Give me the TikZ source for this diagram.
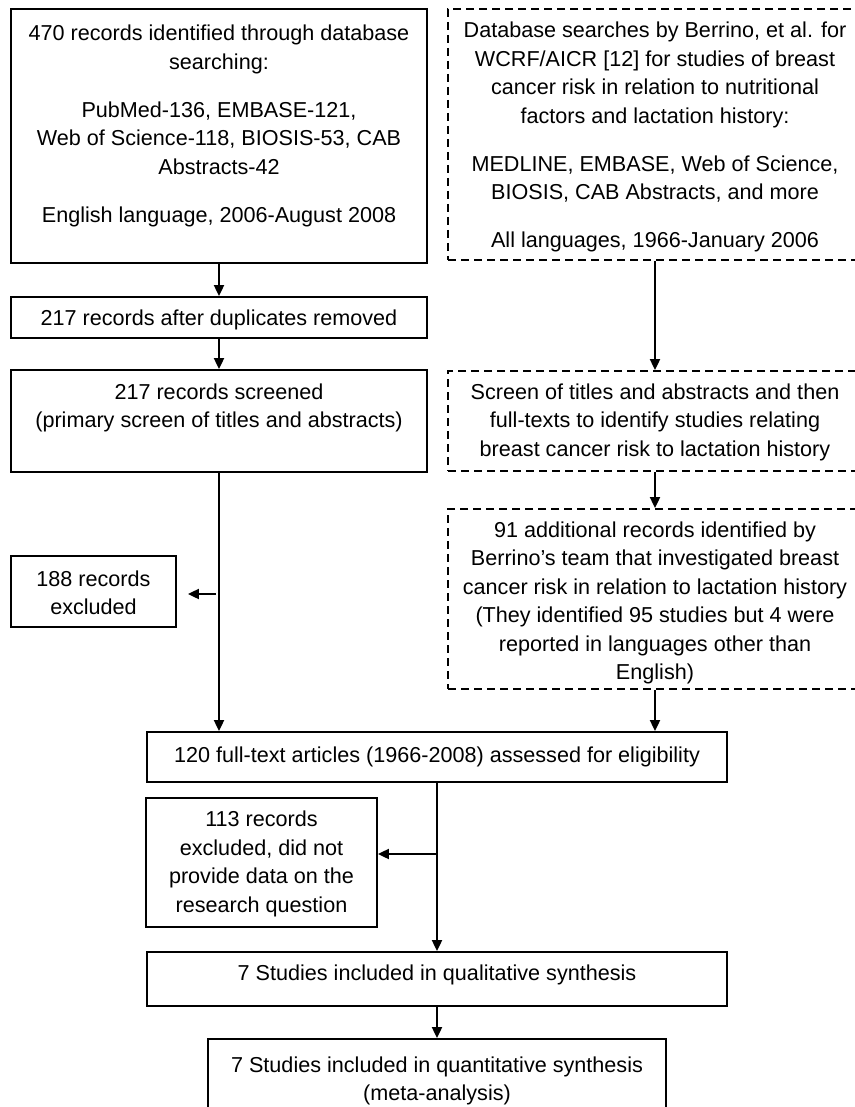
\documentclass[tikz,border=0pt]{standalone}
\usepackage{fontspec}
\setmainfont{Liberation Sans}
\usetikzlibrary{arrows.meta}
\tikzset{
  boxn/.style={draw, line width=1.8pt, inner sep=0pt, rectangle},
  dboxn/.style={boxn, dash pattern=on 8pt off 5pt},
  txt/.style={inner sep=0pt, align=center, font=\fontsize{21.6}{28.5}\selectfont},
  arr/.style={line width=1.9pt, -{Triangle[length=11pt,width=10pt]}},
}
\begin{document}
\begin{tikzpicture}[x=1pt,y=-1pt]
\useasboundingbox (0,0) rectangle (854,1107);
% boxes
\node[boxn, minimum width=416pt, minimum height=254pt] (b1) at (219,136) {};
\node[boxn, minimum width=416pt, minimum height=41pt] (b2) at (219,317.5) {};
\node[boxn, minimum width=416pt, minimum height=102pt] (b3) at (219,421) {};
\node[boxn, minimum width=165pt, minimum height=71pt] (ex1) at (93.5,591.5) {};
\node[dboxn, minimum width=414pt, minimum height=251pt] (r1) at (655,134.5) {};
\node[dboxn, minimum width=414pt, minimum height=100pt] (r2) at (655,421) {};
\node[dboxn, minimum width=414pt, minimum height=180pt] (r3) at (655,599) {};
\node[boxn, minimum width=580pt, minimum height=50pt] (full) at (437,757) {};
\node[boxn, minimum width=231pt, minimum height=129pt] (ex2) at (261.5,862.5) {};
\node[boxn, minimum width=580pt, minimum height=54pt] (qual) at (437,979) {};
\node[boxn, minimum width=458pt, minimum height=76pt] (quant) at (437,1077) {};
% texts
\node[txt, anchor=north] (t1) at (219,25) {470 records identified through database\\searching:\\[19.5pt]PubMed-136, EMBASE-121,\\Web of Science-118, BIOSIS-53, CAB\\Abstracts-42\\[19.5pt]English language, 2006-August 2008};
\node[txt] (t2) at (219,320) {217 records after duplicates removed};
\node[txt] (t3) at (219,408) {217 records screened\\(primary screen of titles and abstracts)};
\node[txt] (tex1) at (93.5,593) {188 records\\excluded};
\node[txt, anchor=north] (tr1) at (655,22) {Database searches by Berrino, et al. for\\WCRF/AICR [12] for studies of breast\\cancer risk in relation to nutritional\\factors and lactation history:\\[19.5pt]MEDLINE, EMBASE, Web of Science,\\BIOSIS, CAB Abstracts, and more\\[19.5pt]All languages, 1966-January 2006};
\node[txt] (tr2) at (655,422) {Screen of titles and abstracts and then\\full-texts to identify studies relating\\breast cancer risk to lactation history};
\node[txt] (tr3) at (655,603) {91 additional records identified by\\Berrino’s team that investigated breast\\cancer risk in relation to lactation history\\(They identified 95 studies but 4 were\\reported in languages other than\\English)};
\node[txt] (tfull) at (437,757) {120 full-text articles (1966-2008) assessed for eligibility};
\node[txt] (tex2) at (261.5,864) {113 records\\excluded, did not\\provide data on the\\research question};
\node[txt] (tqual) at (437,975) {7 Studies included in qualitative synthesis};
\node[txt] (tquant) at (437,1081) {7 Studies included in quantitative synthesis\\(meta-analysis)};
% connectors
\coordinate (j1) at (216,594);
\coordinate (j2) at (437,854);
\draw[arr] (b1.south) -- (b2.north);
\draw[arr] (b2.south) -- (b3.north);
\draw[arr] (b3.south) -- (b3.south |- full.north);
\draw[arr, shorten >=11pt] (j1) -- (ex1.east |- j1);
\draw[arr] (r1.south) -- (r2.north);
\draw[arr] (r2.south) -- (r3.north);
\draw[arr] (r3.south) -- (r3.south |- full.north);
\draw[arr] (full.south) -- (qual.north);
\draw[arr] (j2) -- (ex2.east |- j2);
\draw[arr] (qual.south) -- (quant.north);
\end{tikzpicture}
\end{document}
